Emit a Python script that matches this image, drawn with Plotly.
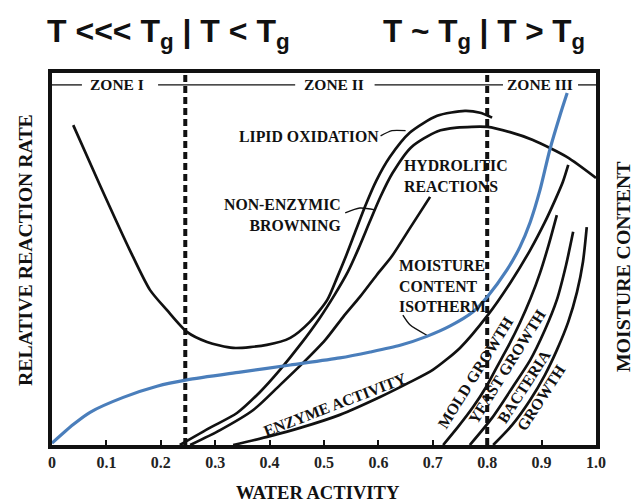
import plotly.graph_objects as go

# ---------------- data ----------------
tick_vals = [0, 0.1, 0.2, 0.3, 0.4, 0.5, 0.6, 0.7, 0.8, 0.9, 1.0]
tick_text = ["0", "0.1", "0.2", "0.3", "0.4", "0.5", "0.6", "0.7", "0.8", "0.9", "1.0"]

zone_bounds = [0.245, 0.8]
zone_names = ["ZONE I", "ZONE II", "ZONE III"]

iso_aw = [0, 0.039, 0.070, 0.131, 0.193, 0.248, 0.346, 0.438, 0.529, 0.585, 0.640,
          0.689, 0.732, 0.774, 0.800, 0.836, 0.860, 0.879, 0.897, 0.915, 0.934, 0.947]
iso_mc = [0.005, 0.055, 0.088, 0.128, 0.158, 0.175, 0.196, 0.215, 0.234, 0.250, 0.268,
          0.292, 0.320, 0.358, 0.398, 0.470, 0.532, 0.599, 0.685, 0.793, 0.887, 0.946]

lipid_aw = [0.039, 0.088, 0.143, 0.180, 0.211, 0.248, 0.285, 0.333, 0.395, 0.438, 0.474,
            0.506, 0.524, 0.541, 0.558, 0.576, 0.596, 0.621, 0.658, 0.708, 0.759, 0.787, 0.809]
lipid_rate = [0.860, 0.699, 0.524, 0.417, 0.363, 0.304, 0.277, 0.261, 0.269, 0.288, 0.331,
              0.390, 0.450, 0.510, 0.575, 0.643, 0.710, 0.774, 0.840, 0.885, 0.898, 0.893, 0.880]

brown_aw = [0.235, 0.290, 0.340, 0.382, 0.419, 0.456, 0.492, 0.520, 0.544, 0.564, 0.584,
            0.604, 0.626, 0.660, 0.708, 0.744, 0.800, 0.842, 0.884, 0.947, 1.0]
brown_rate = [0.0, 0.046, 0.086, 0.142, 0.202, 0.269, 0.341, 0.405, 0.466, 0.530, 0.600,
              0.668, 0.731, 0.800, 0.843, 0.853, 0.855, 0.841, 0.820, 0.774, 0.718]

hydro_aw = [0.254, 0.309, 0.370, 0.419, 0.461, 0.502, 0.535, 0.566, 0.597, 0.625, 0.658, 0.695]
hydro_rate = [0.0, 0.040, 0.094, 0.161, 0.220, 0.282, 0.344, 0.398, 0.457, 0.508, 0.583, 0.667]

enzyme_aw = [0.333, 0.401, 0.456, 0.529, 0.603, 0.658, 0.700, 0.750, 0.800, 0.842, 0.879,
             0.906, 0.925, 0.939, 0.949]
enzyme_rate = [0.0, 0.024, 0.046, 0.081, 0.129, 0.169, 0.202, 0.261, 0.347, 0.435, 0.524,
               0.599, 0.659, 0.707, 0.753]

mold_aw = [0.719, 0.746, 0.774, 0.798, 0.818, 0.840, 0.860, 0.880, 0.897, 0.913, 0.928]
mold_rate = [0.0, 0.048, 0.102, 0.156, 0.210, 0.269, 0.328, 0.395, 0.462, 0.538, 0.618]

yeast_aw = [0.768, 0.809, 0.847, 0.879, 0.906, 0.928, 0.945, 0.958]
yeast_rate = [0.0, 0.073, 0.156, 0.228, 0.309, 0.390, 0.484, 0.573]

bact_aw = [0.811, 0.846, 0.879, 0.906, 0.928, 0.949, 0.965, 0.976, 0.983]
bact_rate = [0.0, 0.054, 0.121, 0.188, 0.255, 0.331, 0.411, 0.492, 0.586]

# leader lines (from label to curve)
lead_lipid_x = [0.604, 0.625, 0.650]
lead_lipid_y = [0.831, 0.845, 0.845]
lead_brown_x = [0.539, 0.566, 0.594]
lead_brown_y = [0.624, 0.637, 0.632]
lead_iso_x = [0.645, 0.658, 0.689]
lead_iso_y = [0.349, 0.323, 0.295]

# ---------------- styling ----------------
BLACK = "#111111"
BLUE = "#4a7ebb"
SERIF = "Liberation Serif, Times New Roman, serif"
SANS = "Liberation Sans, Arial, sans-serif"

fig = go.Figure()

def curve(x, y, color=BLACK, width=2.7, smoothing=0.7):
    fig.add_trace(go.Scatter(x=x, y=y, mode="lines",
                             line=dict(color=color, width=width, shape="spline", smoothing=smoothing),
                             hoverinfo="skip", showlegend=False))

# dashed zone boundaries
for xb in zone_bounds:
    fig.add_trace(go.Scatter(x=[xb, xb], y=[0, 1], mode="lines",
                             line=dict(color=BLACK, width=4, dash="7px,4px"),
                             hoverinfo="skip", showlegend=False))

curve(lipid_aw, lipid_rate)
curve(brown_aw, brown_rate)
curve(hydro_aw, hydro_rate)
curve(enzyme_aw, enzyme_rate)
curve(mold_aw, mold_rate)
curve(yeast_aw, yeast_rate)
curve(bact_aw, bact_rate)
curve(lead_lipid_x, lead_lipid_y, width=1.4)
curve(lead_brown_x, lead_brown_y, width=1.4)
curve(lead_iso_x, lead_iso_y, width=1.4)
curve(iso_aw, iso_mc, color=BLUE, width=3.2)

# zone header row
zone_y = 0.968
zone_x = [0.119, 0.518, 0.897]
zone_segments = [(0.0, 0.055), (0.195, 0.447), (0.593, 0.829), (0.967, 1.0)]
shapes = []
for a, b in zone_segments:
    shapes.append(dict(type="line", xref="x", yref="y", x0=a, x1=b, y0=zone_y, y1=zone_y,
                       line=dict(color=BLACK, width=1.3)))

annotations = []
for name, zx in zip(zone_names, zone_x):
    annotations.append(dict(x=zx, y=zone_y, xref="x", yref="y", text=name, showarrow=False,
                            font=dict(family=SERIF, size=15.5, color=BLACK, weight="bold")))

def label(text, x, y, angle=0, xanchor="center", align="center", size=15.8):
    annotations.append(dict(x=x, y=y, xref="x", yref="y", text=text, showarrow=False,
                            textangle=angle, xanchor=xanchor, align=align,
                            font=dict(family=SERIF, size=size, color=BLACK, weight="bold")))

label("LIPID OXIDATION", 0.472, 0.828)
label("NON-ENZYMIC<br>BROWNING", 0.535, 0.618, xanchor="right", align="right")
label("HYDROLITIC<br>REACTIONS", 0.643, 0.723, xanchor="left", align="left")
label("MOISTURE<br>CONTENT<br>ISOTHERM", 0.634, 0.428, xanchor="left", align="left")
label("ENZYME ACTIVITY", 0.520, 0.110, angle=-21)
label("MOLD GROWTH", 0.778, 0.196, angle=-58)
label("YEAST GROWTH", 0.836, 0.212, angle=-58)
label("BACTERIA<br>GROWTH", 0.884, 0.142, angle=-57)

# axis titles
annotations.append(dict(x=-0.0496, y=0.524, xref="paper", yref="paper", text="RELATIVE REACTION RATE",
                        textangle=-90, showarrow=False, xanchor="center", yanchor="middle",
                        font=dict(family=SERIF, size=19.8, color=BLACK, weight="bold")))
annotations.append(dict(x=1.0496, y=0.481, xref="paper", yref="paper", text="MOISTURE CONTENT",
                        textangle=-90, showarrow=False, xanchor="center", yanchor="middle",
                        font=dict(family=SERIF, size=19.8, color=BLACK, weight="bold")))
annotations.append(dict(x=0.489, y=-0.129, xref="paper", yref="paper", text="WATER ACTIVITY",
                        showarrow=False, xanchor="center", yanchor="middle",
                        font=dict(family=SERIF, size=18.6, color=BLACK, weight="bold")))

# headers
annotations.append(dict(x=0.215, y=1.166, xref="paper", yref="paper", xanchor="center", yanchor="top",
                        text="T &lt;&lt;&lt; T<sub>g</sub> | T &lt; T<sub>g</sub>", showarrow=False,
                        font=dict(family=SANS, size=32, color=BLACK, weight="bold")))
annotations.append(dict(x=0.794, y=1.166, xref="paper", yref="paper", xanchor="center", yanchor="top",
                        text="T ~ T<sub>g</sub> | T &gt; T<sub>g</sub>", showarrow=False,
                        font=dict(family=SANS, size=31.5, color=BLACK, weight="bold")))

fig.update_layout(
    width=642, height=504,
    margin=dict(l=52, r=46, t=73, b=59),
    paper_bgcolor="white", plot_bgcolor="white",
    shapes=shapes, annotations=annotations,
    xaxis=dict(range=[0, 1], tickvals=tick_vals, ticktext=tick_text, ticks="inside",
               ticklen=5, tickwidth=1.5, tickcolor=BLACK, showgrid=False, zeroline=False,
               showline=True, linewidth=4, linecolor=BLACK, mirror=True,
               tickfont=dict(family=SERIF, size=16, color="#222222", weight="bold")),
    yaxis=dict(range=[0, 1], showticklabels=False, ticks="", showgrid=False, zeroline=False,
               showline=True, linewidth=4, linecolor=BLACK, mirror=True),
)

fig.write_html("out.html")
